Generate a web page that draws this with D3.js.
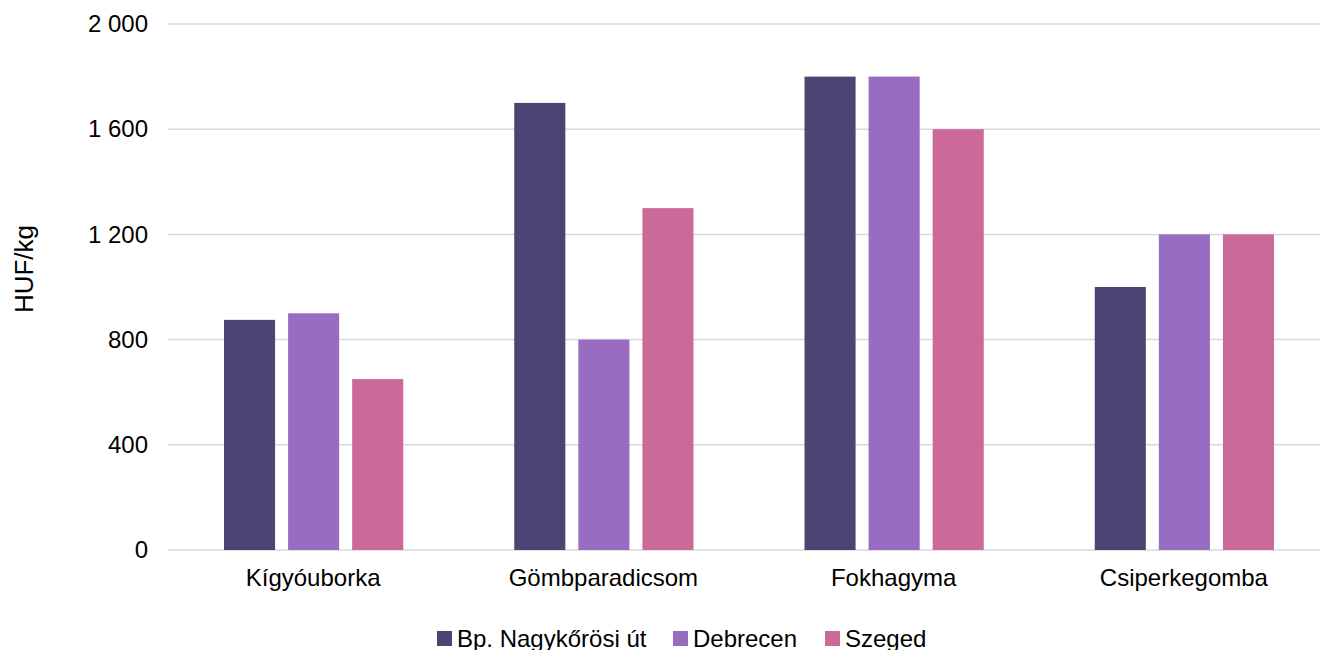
<!DOCTYPE html>
<html>
<head>
<meta charset="utf-8">
<script src="https://cdn.jsdelivr.net/npm/d3@7"></script>
<style>
  body { margin: 0; background: #fff; overflow: hidden; }
  svg text { font-family: "Liberation Sans", Arial, sans-serif; fill: #000; }
</style>
</head>
<body>
<svg id="chart" width="1320" height="650"></svg>
<script>
// data
var categories = ['Kígyóuborka', 'Gömbparadicsom', 'Fokhagyma', 'Csiperkegomba'];
var seriesNames = ['Bp. Nagykőrösi út', 'Debrecen', 'Szeged'];
var bpValues = [875, 1700, 1800, 1000];
var debrecenValues = [900, 800, 1800, 1200];
var szegedValues = [650, 1300, 1600, 1200];
var yTicks = [0, 400, 800, 1200, 1600, 2000];
var colors = ['#4d4474', '#986cc1', '#cb6a99'];

var series = [bpValues, debrecenValues, szegedValues];

var svg = d3.select('#chart');
// plot runs a little past the right edge of the picture
var plotLeft = 168, plotRight = 1329, plotTop = 24, plotBottom = 550;
var fontSize = 24;

var x0 = d3.scaleBand().domain(categories).range([plotLeft, plotRight]);
var x1 = d3.scaleBand().domain(seriesNames)
    .range([56, x0.bandwidth() - 55])
    .paddingInner(0.203).paddingOuter(0);
var y = d3.scaleLinear().domain([0, 2000]).range([plotBottom, plotTop]);

var fmt = d3.formatLocale({decimal: ',', thousands: ' ', grouping: [3], currency: ['', '']}).format(',');

// gridlines
svg.append('g')
    .selectAll('line')
    .data(yTicks)
    .join('line')
    .attr('x1', plotLeft)
    .attr('x2', plotRight)
    .attr('y1', function(d) { return y(d); })
    .attr('y2', function(d) { return y(d); })
    .attr('stroke', '#d9d9d9')
    .attr('stroke-width', 1.5);

// y axis labels
var yAxis = svg.append('g')
    .attr('transform', 'translate(' + (plotLeft - 20) + ',0)')
    .call(d3.axisLeft(y).tickValues(yTicks).tickFormat(fmt).tickSize(0).tickPadding(0));
yAxis.select('.domain').remove();
yAxis.selectAll('text').attr('font-size', fontSize).style('font-family', '"Liberation Sans", Arial, sans-serif');

// bars
series.forEach(function(values, si) {
  svg.append('g')
      .selectAll('rect')
      .data(values)
      .join('rect')
      .attr('x', function(d, i) { return x0(categories[i]) + x1(seriesNames[si]); })
      .attr('y', function(d) { return y(d); })
      .attr('width', x1.bandwidth())
      .attr('height', function(d) { return y(0) - y(d); })
      .attr('fill', colors[si]);
});

// x axis labels
var xAxis = svg.append('g')
    .attr('transform', 'translate(0,' + plotBottom + ')')
    .call(d3.axisBottom(x0).tickSize(0).tickPadding(19));
xAxis.select('.domain').remove();
xAxis.selectAll('text').attr('font-size', fontSize).style('font-family', '"Liberation Sans", Arial, sans-serif');

// y axis title
svg.append('text')
    .attr('transform', 'translate(33,269) rotate(-90)')
    .attr('text-anchor', 'middle')
    .attr('font-size', 26)
    .text('HUF/kg');

// legend
var legendX = [437, 673, 825];
var legend = svg.append('g');
seriesNames.forEach(function(name, i) {
  legend.append('rect')
      .attr('x', legendX[i])
      .attr('y', 631)
      .attr('width', 15)
      .attr('height', 15)
      .attr('fill', colors[i]);
  legend.append('text')
      .attr('x', legendX[i] + 20)
      .attr('y', 647)
      .attr('font-size', fontSize)
      .text(name);
});
</script>
</body>
</html>
